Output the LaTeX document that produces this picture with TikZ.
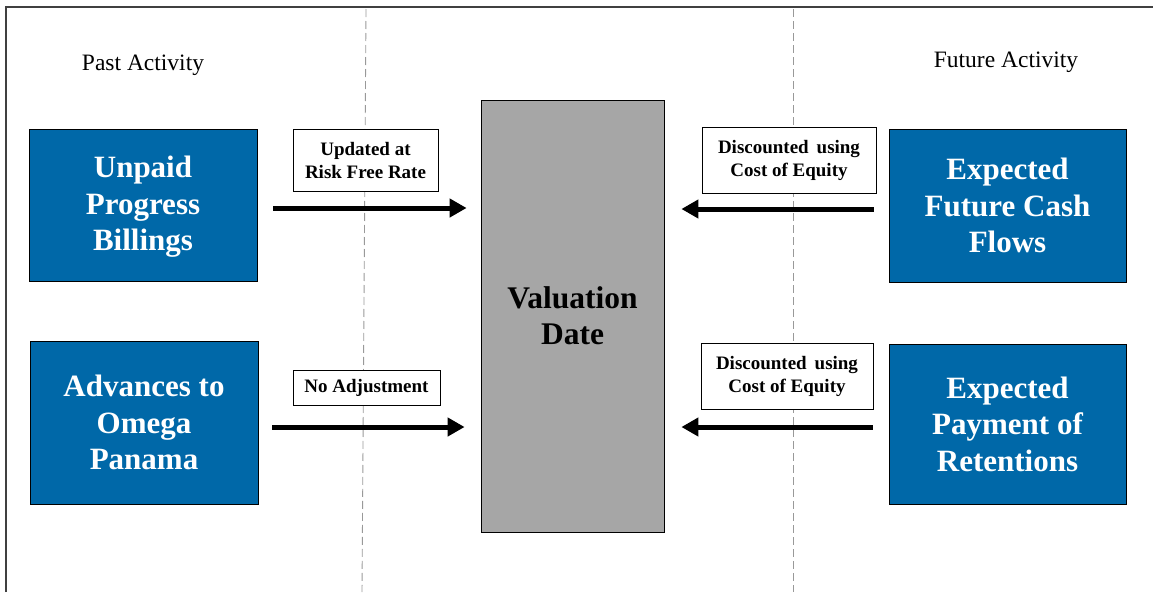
\documentclass[tikz,border=0pt]{standalone}
\usepackage{fontspec}
\setmainfont{Liberation Serif}
\usetikzlibrary{arrows.meta}
\definecolor{boxblue}{RGB}{0,104,168}
\definecolor{dategray}{RGB}{166,166,166}
\begin{document}
\begin{tikzpicture}[x=1pt,y=-1pt,
  bluebox/.style={draw=black,line width=0.8pt,fill=boxblue,text=white,inner sep=0pt,align=center,
    font=\fontsize{31}{36.5}\selectfont\bfseries},
  notebox/.style={draw=black,line width=0.8pt,fill=white,inner sep=0pt,align=center,
    font=\fontsize{19}{23}\selectfont\bfseries},
  flow/.style={line width=5pt,-{Triangle[length=17pt,width=18pt]}},
  divider/.style={gray!80,line width=0.9pt,dash pattern=on 8pt off 4pt}]
  \useasboundingbox (0,0) rectangle (1153,592);
  % frame and the two dividing lines
  \draw [black!75,line width=1.3pt] (6,592) -- (6,7) -- (1153,7);
  \draw [divider] (366,9) -- (362,592);
  \draw [divider] (793,9) -- (793,592);
  \node [font=\fontsize{23.5}{28}\selectfont] (past) at (143,65) {Past Activity};
  \node [font=\fontsize{23.5}{28}\selectfont] (future) at (1006,62) {Future Activity};
  % valuation date in the middle
  \node [draw=black,line width=0.8pt,fill=dategray,minimum width=183pt,minimum height=432pt,align=center,
    font=\fontsize{31.5}{36}\selectfont\bfseries] (valdate) at (572.5,316) {Valuation\\Date};
  % past side
  \node [bluebox,minimum width=228pt,minimum height=152pt] (unpaid) at (143,205) {\strut Unpaid\\Progress\\Billings};
  \node [bluebox,minimum width=228pt,minimum height=163pt] (advances) at (144,422.5) {Advances to\\Omega\\Panama};
  \node [notebox,minimum width=145pt,minimum height=62pt] (updated) at (365.5,160) {Updated at\\Risk Free Rate};
  \node [notebox,minimum width=147pt,minimum height=35pt] (noadj) at (366.5,387.5) {No Adjustment};
  % future side
  \node [bluebox,minimum width=237pt,minimum height=153pt] (futurecf) at (1007.5,205.5) {Expected\\Future Cash\\Flows};
  \node [bluebox,minimum width=237pt,minimum height=160pt] (retentions) at (1007.5,424) {Expected\\Payment of\\Retentions};
  \node [notebox,minimum width=174pt,minimum height=66pt] (disctop) at (789,160.5) {Discounted\, using\\Cost of Equity};
  \node [notebox,minimum width=172pt,minimum height=66pt] (discbot) at (787,376) {Discounted\, using\\Cost of Equity};
  % arrows into the valuation date
  \coordinate (fromunpaid) at ([xshift=16pt,yshift=-3pt]unpaid.east);
  \coordinate (fromadv) at ([xshift=14pt,yshift=-4.5pt]advances.east);
  \coordinate (fromcf) at ([xshift=-15pt,yshift=-3.5pt]futurecf.west);
  \coordinate (fromret) at ([xshift=-16pt,yshift=-3pt]retentions.west);
  \draw [flow,shorten >=14pt] (fromunpaid) -- (fromunpaid -| valdate.west);
  \draw [flow,shorten >=16pt] (fromadv) -- (fromadv -| valdate.west);
  \draw [flow,shorten >=17pt] (fromcf) -- (fromcf -| valdate.east);
  \draw [flow,shorten >=17pt] (fromret) -- (fromret -| valdate.east);
\end{tikzpicture}
\end{document}
